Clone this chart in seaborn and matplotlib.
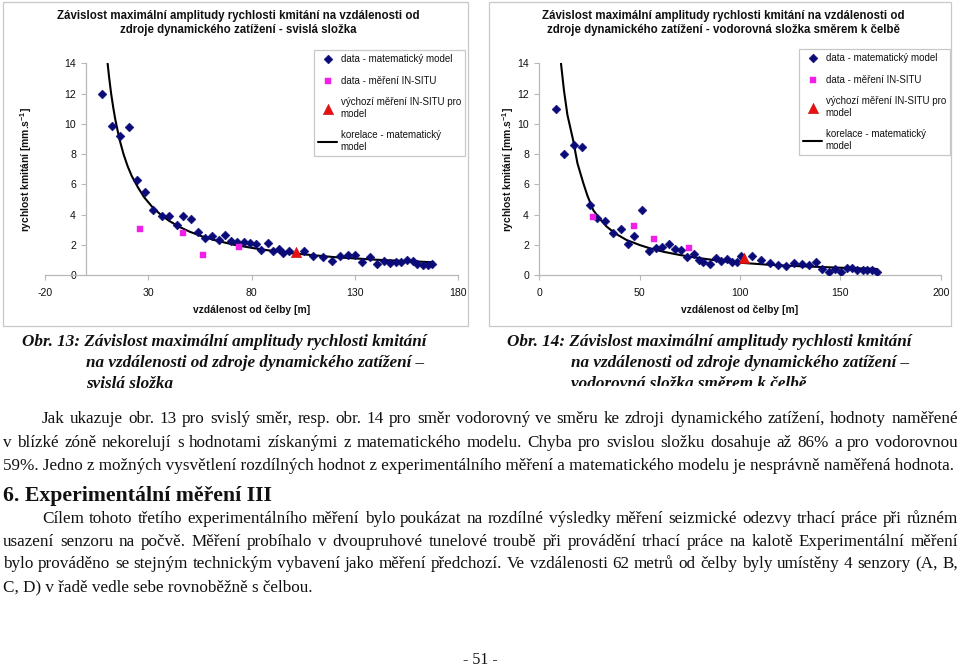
import numpy as np
import pandas as pd
import matplotlib
matplotlib.use("Agg")
import matplotlib.pyplot as plt
from matplotlib.patches import Rectangle
from matplotlib.transforms import Bbox
import seaborn as sns

# ---- data ----
# Obr. 13 - svisla slozka
sv_model_x = [7.7, 12.3, 16.1, 20.6, 24.4, 28.4, 32.4, 36.5, 40.0, 43.7, 46.8, 50.6, 54.2, 57.3,
              60.8, 64.0, 66.9, 70.0, 73.0, 76.1, 79.2, 82.1, 84.6, 87.7, 90.5, 93.1, 95.3, 98.1,
              105.3, 109.8, 114.3, 118.7, 122.7, 126.6, 130.0, 133.6, 137.2, 140.7, 144.0, 146.9,
              149.8, 152.4, 155.3, 158.2, 160.1, 162.7, 165.3, 167.4]
sv_model_y = [11.95, 9.88, 9.22, 9.82, 6.30, 5.52, 4.31, 3.94, 3.94, 3.32, 3.94, 3.70, 2.88, 2.45,
              2.60, 2.33, 2.66, 2.29, 2.18, 2.18, 2.11, 2.07, 1.67, 2.15, 1.62, 1.76, 1.45, 1.61,
              1.62, 1.27, 1.23, 0.96, 1.29, 1.36, 1.36, 0.88, 1.19, 0.73, 0.92, 0.83,
              0.86, 0.88, 1.01, 0.92, 0.75, 0.70, 0.66, 0.73]
sv_insitu_x = [26.1, 46.8, 56.6, 73.7]
sv_insitu_y = [3.08, 2.77, 1.36, 1.85]
sv_base_x = [101.3]
sv_base_y = [1.56]
sv_corr_x = [10.3, 11, 12, 13, 14, 16, 18, 20, 22, 25, 28, 32, 36, 40, 45, 50, 56, 63, 72, 84,
             100, 120, 140, 168]
sv_corr_y = [14.0, 13.1, 12.0, 11.1, 10.3, 9.0, 8.0, 7.2, 6.55, 5.8, 5.15, 4.5, 4.0, 3.6, 3.2,
             2.88, 2.57, 2.29, 2.0, 1.72, 1.45, 1.2, 1.03, 0.86]

# Obr. 14 - vodorovna slozka smerem k celbe
vo_model_x = [8.3, 12.5, 17.1, 21.1, 25.1, 28.9, 32.7, 36.9, 40.5, 44.2, 47.3, 51.2, 54.7, 58.0,
              61.1, 64.5, 67.4, 70.6, 73.8, 76.9, 79.7, 81.7, 85.0, 87.9, 90.7, 93.5, 95.9, 98.3,
              100.6, 105.8, 110.3, 114.9, 119.1, 122.9, 127.1, 130.7, 134.4, 137.7, 140.9, 144.3,
              147.3, 150.5, 153.2, 156.0, 158.4, 161.1, 163.4, 165.8, 168.1]
vo_model_y = [10.96, 7.99, 8.58, 8.47, 4.62, 3.76, 3.61, 2.80, 3.08, 2.09, 2.58, 4.34, 1.63, 1.80,
              1.85, 2.09, 1.76, 1.69, 1.21, 1.41, 0.99, 0.90, 0.73, 1.12, 0.96, 1.08, 0.90, 0.90,
              1.27, 1.27, 1.01, 0.79, 0.68, 0.61, 0.79, 0.75, 0.68, 0.90, 0.40, 0.24,
              0.40, 0.24, 0.50, 0.50, 0.37, 0.37, 0.37, 0.35, 0.20]
vo_insitu_x = [26.7, 47.2, 57.1, 74.6]
vo_insitu_y = [3.83, 3.24, 2.42, 1.83]
vo_base_x = [102.0]
vo_base_y = [1.15]
vo_corr_x = [10.8, 12.3, 14, 16.9, 19, 21.9, 24, 26.9, 30, 33.6, 38, 43.5, 50, 55.2, 62, 70.1, 78,
             86.7, 100, 115, 130, 150, 168]
vo_corr_y = [14.0, 12.2, 10.6, 8.9, 7.4, 6.1, 5.25, 4.3, 3.75, 3.21, 2.75, 2.33, 2.0, 1.78, 1.55,
             1.34, 1.17, 1.01, 0.83, 0.69, 0.6, 0.5, 0.42]

labels = ["data - matematický model", "data - měření IN-SITU",
          "výchozí měření IN-SITU pro\nmodel", "korelace - matematický\nmodel"]
titles = [("Závislost maximální amplitudy rychlosti kmitání na vzdálenosti od",
           "zdroje dynamického zatížení - svislá složka"),
          ("Závislost maximální amplitudy rychlosti kmitání na vzdálenosti od",
           "zdroje dynamického zatížení - vodorovná složka směrem k čelbě")]
xlabel = "vzdálenost od čelby [m]"
ylabel = r"rychlost kmitání [mm.s$^{\mathbf{-1}}$]"

captions = [["Obr. 13: Závislost maximální amplitudy rychlosti kmitání",
             "na vzdálenosti od zdroje dynamického zatížení –",
             "svislá složka"],
            ["Obr. 14: Závislost maximální amplitudy rychlosti kmitání",
             "na vzdálenosti od zdroje dynamického zatížení –",
             "vodorovná složka směrem k čelbě"]]
para1 = ["Jak ukazuje obr. 13 pro svislý směr, resp. obr. 14 pro směr vodorovný ve směru ke zdroji dynamického zatížení, hodnoty naměřené",
         "v blízké zóně nekorelují s hodnotami získanými z matematického modelu. Chyba pro svislou složku dosahuje až 86% a pro vodorovnou",
         "59%. Jedno z možných vysvětlení rozdílných hodnot z experimentálního měření a matematického modelu je nesprávně naměřená hodnota."]
heading = "6. Experimentální měření III"
para2 = ["Cílem tohoto třetího experimentálního měření bylo poukázat na rozdílné výsledky měření seizmické odezvy trhací práce při různém",
         "usazení senzoru na počvě. Měření probíhalo v dvoupruhové tunelové troubě při provádění trhací práce na kalotě Experimentální měření",
         "bylo prováděno se stejným technickým vybavení jako měření předchozí. Ve vzdálenosti 62 metrů od čelby byly umístěny 4 senzory (A, B,",
         "C, D) v řadě vedle sebe rovnoběžně s čelbou."]
page_no = "- 51 -"

# ---- style ----
sns.set_style("white")
plt.rcParams["font.family"] = ["Liberation Sans", "DejaVu Sans"]
plt.rcParams["mathtext.fontset"] = "custom"
plt.rcParams["mathtext.rm"] = "Liberation Sans"
plt.rcParams["mathtext.bf"] = "Liberation Sans:bold"
plt.rcParams["axes.unicode_minus"] = False

W, H = 960, 667
fig = plt.figure(figsize=(9.6, 6.67), dpi=100)
fig.patch.set_facecolor("white")
renderer = fig.canvas.get_renderer()
GREY = "#b8b8b8"
NAVY = "#0a0a78"
PINK = "#f020e8"
RED = "#e81010"


def fx(x):
    return x / W


def fy(y):
    return 1 - y / H


def chart(box, ax_px, xlim, xticks, yaxis_at, mx, my, ix, iy, bx, by, cx, cy, title, leg_xy):
    bx0, by0, bx1, by1 = box
    fig.patches.append(Rectangle((fx(bx0), fy(by1)), (bx1 - bx0) / W, (by1 - by0) / H,
                                 transform=fig.transFigure, fill=False, edgecolor="#c8c8c8", lw=0.9))
    l, t, r, b = ax_px
    ax = fig.add_axes([fx(l), fy(b), (r - l) / W, (b - t) / H])
    ax.set_facecolor("none")
    sns.scatterplot(x=mx, y=my, marker="D", s=20, color=NAVY, edgecolor=NAVY, linewidth=0.4,
                    ax=ax, label=labels[0], zorder=3)
    sns.scatterplot(x=ix, y=iy, marker="s", s=18, color=PINK, edgecolor=PINK, linewidth=0.3,
                    ax=ax, label=labels[1], zorder=3)
    sns.scatterplot(x=bx, y=by, marker="^", s=55, color=RED, edgecolor="#c01010", linewidth=0.4,
                    ax=ax, label=labels[2], zorder=4)
    sns.lineplot(x=cx, y=cy, sort=False, estimator=None, color="black", lw=1.5, ax=ax,
                 label=labels[3], zorder=2)
    ax.set_xlim(*xlim)
    ax.set_ylim(0, 14)
    ax.set_xticks(xticks)
    ax.set_yticks(range(0, 15, 2))
    ax.set_xlabel("")
    ax.set_ylabel("")
    for s in ["top", "right"]:
        ax.spines[s].set_visible(False)
    for s in ["left", "bottom"]:
        ax.spines[s].set_color(GREY)
        ax.spines[s].set_linewidth(0.9)
    ax.spines["left"].set_position(("data", yaxis_at))
    ax.tick_params(axis="both", direction="out", length=3.5, width=0.8, color=GREY,
                   labelsize=7.6, labelcolor="#111111")
    ax.tick_params(axis="x", pad=6)
    ax.tick_params(axis="y", pad=4, left=True)
    ax.tick_params(axis="x", bottom=True)
    h, lab = ax.get_legend_handles_labels()
    leg = ax.legend(h, lab, loc="upper left", bbox_to_anchor=(fx(leg_xy[0]), fy(leg_xy[1])),
                    bbox_transform=fig.transFigure, frameon=True, fancybox=False,
                    edgecolor="#c8c8c8", framealpha=1, fontsize=7, labelspacing=1.2,
                    handlelength=2.0, handletextpad=0.35, borderpad=0.4, borderaxespad=0)
    leg.get_frame().set_linewidth(0.9)
    for txt in leg.get_texts():
        txt.set_color("#111111")
    cxm = (bx0 + bx1) / 2 + 3
    fig.text(fx(cxm), fy(16), title[0], ha="center", va="center", fontsize=8.3,
             fontweight="bold", color="#111111")
    fig.text(fx(cxm), fy(30), title[1], ha="center", va="center", fontsize=8.3,
             fontweight="bold", color="#111111")
    fig.text(fx((l + r) / 2), fy(310.5), xlabel, ha="center", va="center", fontsize=7.4,
             fontweight="bold", color="#111111")
    return ax


ax1 = chart((3, 2, 468, 326), (45, 63.3, 458.3, 275.3), (-20, 180), [-20, 30, 80, 130, 180], 0,
            sv_model_x, sv_model_y, sv_insitu_x, sv_insitu_y, sv_base_x, sv_base_y,
            sv_corr_x, sv_corr_y, titles[0], (314, 50))
fig.text(fx(26.5), fy(169.5), ylabel, ha="center", va="center", rotation=90, fontsize=7.4,
         fontweight="bold", color="#111111")
ax2 = chart((489, 2, 951, 326), (539.3, 63.3, 940.7, 275.3), (0, 200), [0, 50, 100, 150, 200], 0,
            vo_model_x, vo_model_y, vo_insitu_x, vo_insitu_y, vo_base_x, vo_base_y,
            vo_corr_x, vo_corr_y, titles[1], (799, 49))
fig.text(fx(508), fy(169.5), ylabel, ha="center", va="center", rotation=90, fontsize=7.4,
         fontweight="bold", color="#111111")

# ---- page text ----
SERIF = ["Liberation Serif", "DejaVu Serif"]


def line(x0, y, s, x1=None, **kw):
    kw.setdefault("color", "#111111")
    kw.setdefault("family", SERIF)
    if x1 is None:
        return [fig.text(fx(x0), fy(y), s, ha="left", va="baseline", **kw)]
    words = s.split(" ")
    ts = [fig.text(0, fy(y), w, ha="left", va="baseline", **kw) for w in words]
    widths = [t.get_window_extent(renderer).width for t in ts]
    gap = (x1 - x0 - sum(widths)) / (len(words) - 1)
    x = x0
    for t, w in zip(ts, widths):
        t.set_x(fx(x))
        x += w + gap
    return ts


cap_kw = dict(fontsize=12.3, fontweight="bold", fontstyle="italic")
for i, (cx0, cx1) in enumerate([(22, 86), (507, 571)]):
    ys = [346, 367, 388]
    line(cx0, ys[0], captions[i][0], **cap_kw)
    line(cx1, ys[1], captions[i][1], **cap_kw)
    ts = line(cx1, ys[2], captions[i][2], **cap_kw)
    if i == 1:
        # the scanned page cuts this caption line off at the bottom
        for t in ts:
            t.set_clip_box(Bbox.from_extents(0, H - 386, W, H))
            t.set_clip_on(True)

body_kw = dict(fontsize=12.3)
line(42, 423, para1[0], x1=958, **body_kw)
line(3, 447, para1[1], x1=958, **body_kw)
line(3, 470, para1[2], **body_kw)

line(3, 501, heading, fontsize=15.7, fontweight="bold")

line(42, 523, para2[0], x1=958, **body_kw)
line(3, 546, para2[1], x1=958, **body_kw)
line(3, 568, para2[2], x1=958, **body_kw)
line(3, 591, para2[3], **body_kw)

fig.text(fx(480), fy(664), page_no, ha="center", va="baseline", fontsize=11.5,
         family=SERIF, color="#111111")

fig.savefig("out.png", dpi=100, facecolor="white")
